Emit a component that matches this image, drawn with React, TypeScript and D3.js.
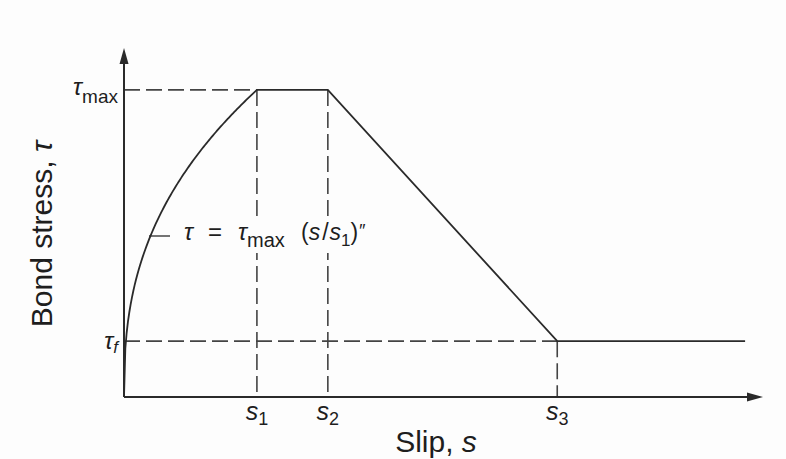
import React from "react";
import * as d3 from "d3";

// Key slip values (fraction of x-axis length) and stress levels (fraction of y-axis length)
const slipKeys = ["s1", "s2", "s3"];
const slipValues = [0.208, 0.319, 0.678];
const slipEnd = 0.972;
const tauMax = 0.88;
const tauF = 0.16;
const alpha = 0.4;
const curveSamples = d3.range(0, 1.0001, 0.01);

const W = 786;
const H = 459;

export default function App() {
  const x = d3.scaleLinear().domain([0, 1]).range([124, 763]);
  const y = d3.scaleLinear().domain([0, 1]).range([397, 48]);
  const [s1, s2, s3] = slipValues;

  const ascending: [number, number][] = curveSamples.map((t) => [
    t * s1,
    tauMax * Math.pow(t, alpha),
  ]);
  const envelope: [number, number][] = [
    ...ascending,
    [s2, tauMax],
    [s3, tauF],
    [slipEnd, tauF],
  ];
  const line = d3
    .line<[number, number]>()
    .x((d) => x(d[0]))
    .y((d) => y(d[1]));

  const bg = "#fdfdfd";
  const stroke = "#2a2a2a";
  const dash = "16 6";
  const font = "'Liberation Sans', Arial, sans-serif";
  const txt = "#1e1e1e";

  return (
    <svg
      width={W}
      height={H}
      style={{ position: "absolute", left: 0, top: 0, background: bg }}
      fontFamily={font}
    >
      {/* dashed guides */}
      <g stroke="#444" strokeWidth={1.6} strokeDasharray={dash} fill="none">
        <line x1={x(0)} x2={x(s1)} y1={y(tauMax)} y2={y(tauMax)} />
        <line x1={x(0)} x2={x(s3)} y1={y(tauF)} y2={y(tauF)} />
        <line x1={x(s1)} x2={x(s1)} y1={y(tauMax)} y2={y(0)} />
        <line x1={x(s2)} x2={x(s2)} y1={y(tauMax)} y2={y(0)} />
        <line x1={x(s3)} x2={x(s3)} y1={y(tauF)} y2={y(0)} />
      </g>

      {/* axes */}
      <g stroke={stroke} strokeWidth={2} fill="none">
        <line x1={x(0)} x2={x(0)} y1={y(0)} y2={y(1) + 10} />
        <line x1={x(0)} x2={x(1) - 10} y1={y(0)} y2={y(0)} />
      </g>
      <path
        d={`M${x(0)},${y(1)} L${x(0) - 4.5},${y(1) + 16} L${x(0) + 4.5},${y(1) + 16} Z`}
        fill={stroke}
      />
      <path
        d={`M${x(1)},${y(0)} L${x(1) - 16},${y(0) - 4.5} L${x(1) - 16},${y(0) + 4.5} Z`}
        fill={stroke}
      />

      {/* bond-slip envelope */}
      <path d={line(envelope) || ""} fill="none" stroke={stroke} strokeWidth={1.8} />

      {/* leader to curve */}
      <line x1={149} x2={170} y1={236} y2={236} stroke={stroke} strokeWidth={1.3} />

      {/* equation (with a knock-out background that breaks the guides) */}
      <rect x={178} y={221} width={178} height={32} fill={bg} />
      <text y={240} fontSize={24} fill={txt}>
        <tspan x={184} fontStyle="italic">τ</tspan>
        <tspan x={208}>=</tspan>
        <tspan x={238} fontStyle="italic">τ</tspan>
        <tspan fontSize={20} dy={7}>max</tspan>
        <tspan x={301} dy={-7} fontSize={23}>(</tspan>
        <tspan fontStyle="italic" fontSize={23}>s</tspan>
        <tspan fontSize={23} dx={2}>/</tspan>
        <tspan fontStyle="italic" fontSize={23} dx={1}>s</tspan>
        <tspan fontSize={17} dy={6}>1</tspan>
        <tspan dy={-6} fontSize={23}>)</tspan>
        <tspan fontSize={18} dy={-3} fontStyle="italic">″</tspan>
      </text>

      {/* y tick labels */}
      <text x={118} y={95} fontSize={24} textAnchor="end" fill={txt}>
        <tspan fontStyle="italic">τ</tspan>
        <tspan fontSize={19} dy={8}>max</tspan>
      </text>
      <text x={118} y={349} fontSize={24} textAnchor="end" fill={txt}>
        <tspan fontStyle="italic">τ</tspan>
        <tspan fontSize={17} dy={4} fontStyle="italic">f</tspan>
      </text>

      {/* x tick labels */}
      {slipKeys.map((k, i) => (
        <text
          key={k}
          x={x(slipValues[i])}
          y={420}
          fontSize={25}
          textAnchor="middle"
          fill={txt}
        >
          <tspan fontStyle="italic">s</tspan>
          <tspan fontSize={18} dy={5}>{k.slice(1)}</tspan>
        </text>
      ))}

      {/* axis titles */}
      <text x={436} y={452} fontSize={30} textAnchor="middle" fill={txt}>
        Slip, <tspan fontStyle="italic">s</tspan>
      </text>
      <text
        transform={`translate(52, 234) rotate(-90)`}
        fontSize={30}
        textAnchor="middle"
        fill={txt}
      >
        Bond stress, <tspan fontStyle="italic">τ</tspan>
      </text>
    </svg>
  );
}
